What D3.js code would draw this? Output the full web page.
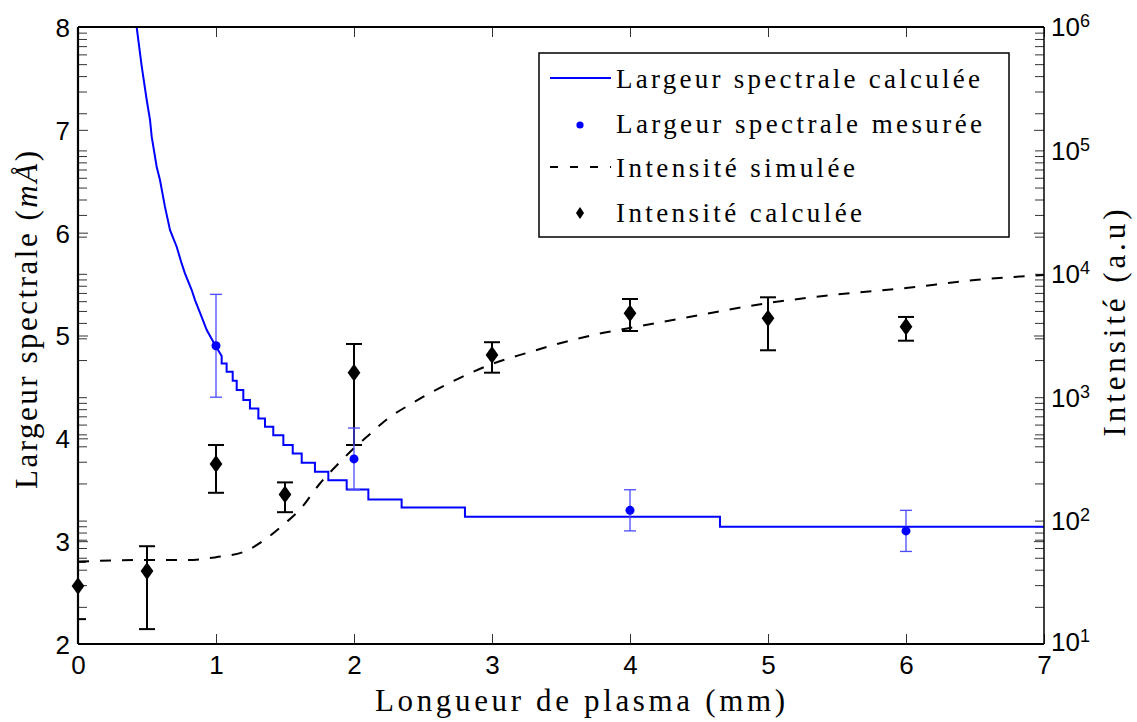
<!DOCTYPE html>
<html>
<head>
<meta charset="utf-8">
<script src="https://cdn.jsdelivr.net/npm/d3@7"></script>
<style>
body { margin: 0; background: #fff; }
svg { display: block; }
</style>
</head>
<body>
<div id="chart"></div>
<script>
// Ticks
var xTicks = [0, 1, 2, 3, 4, 5, 6, 7];
var widthTicks = [2, 3, 4, 5, 6, 7, 8];
var decades = [1, 2, 3, 4, 5, 6];

// Largeur spectrale calculée (smooth head, then staircase)
var calcHeadX = [0.425, 0.462, 0.498, 0.522, 0.534, 0.570, 0.594, 0.630, 0.667, 0.715, 0.751, 0.775, 0.824, 0.848, 0.896, 0.933, 0.993, 1.041];
var calcHeadW = [8.0, 7.614, 7.290, 7.095, 6.933, 6.641, 6.512, 6.253, 6.025, 5.863, 5.701, 5.604, 5.442, 5.344, 5.182, 5.053, 4.907, 4.80];
var calcStepX = [1.041, 1.077, 1.121, 1.150, 1.198, 1.246, 1.307, 1.355, 1.415, 1.488, 1.556, 1.621, 1.717, 1.814, 1.947, 2.104, 2.345, 2.804, 4.652, 7.0];
var calcStepW = [4.728, 4.647, 4.560, 4.469, 4.372, 4.291, 4.194, 4.112, 4.031, 3.934, 3.853, 3.762, 3.674, 3.593, 3.503, 3.405, 3.328, 3.237, 3.139, 3.139];

// Largeur spectrale mesurée
var measX = [1, 2, 4, 6];
var measW = [4.9, 3.8, 3.3, 3.1];
var measErr = [0.5, 0.3, 0.2, 0.2];

// Intensité simulée
var simX = [0, 0.5, 0.8, 1, 1.2, 1.35, 1.5, 1.6, 1.75, 1.9, 2, 2.1, 2.25, 2.4, 2.5, 2.75, 3, 3.25, 3.5, 3.75, 4, 4.5, 5, 5.5, 6, 6.5, 7];
var simI = [46.5, 48, 48, 50.5, 55.7, 69.7, 95, 120, 198, 299, 387, 485, 678, 865, 1005, 1403, 1858, 2280, 2748, 3221, 3640, 4624, 5794, 6792, 7674, 8913, 9772];

// Intensité calculée
var ciX = [0, 0.5, 1, 1.5, 2, 3, 4, 5, 6];
var ciVal = [29.5, 39, 288, 163, 1580, 2200, 4790, 4360, 3730];
var ciLo = [15.9, 13.2, 168, 117, 410, 1580, 3440, 2400, 2870];
var ciHi = [46.4, 62, 410, 204, 2700, 2790, 6250, 6450, 4470];

var legendLabels = ["Largeur spectrale calculée", "Largeur spectrale mesurée", "Intensité simulée", "Intensité calculée"];

var W = 1137, H = 722;
var margin = {top: 27, right: 93, bottom: 78, left: 78},
    width = W - margin.left - margin.right,
    height = H - margin.top - margin.bottom;

var svg = d3.select("#chart").append("svg")
    .attr("width", W)
    .attr("height", H);

var g = svg.append("g")
    .attr("transform", "translate(" + margin.left + "," + margin.top + ")");

var x = d3.scaleLinear().domain([0, 7]).range([0, width]);
var yL = d3.scaleLinear().domain([2, 8]).range([height, 0]);
var yR = d3.scaleLog().domain([10, 1e6]).range([height, 0]);

var sansFont = "'Liberation Sans', Arial, Helvetica, sans-serif";
var serifFont = "'Liberation Serif', 'Times New Roman', serif";

g.append("clipPath").attr("id", "clip")
  .append("rect").attr("width", width).attr("height", height);

// ---- ticks ----
var logTicks = [];
decades.forEach(function(d) {
    if (d == 6) { logTicks.push(1e6); return; }
    for (var k = 1; k <= 9; k++) logTicks.push(k * Math.pow(10, d));
});

function styleTicks(sel) {
    sel.select(".domain").remove();
    sel.selectAll(".tick line").attr("stroke", "#333").attr("stroke-width", 1);
}

g.append("g")
    .attr("transform", "translate(0," + height + ")")
    .call(d3.axisBottom(x).tickValues(xTicks).tickSizeInner(-10).tickSizeOuter(0).tickPadding(12).tickFormat(d3.format("d")))
    .call(styleTicks)
    .selectAll("text")
    .style("font-family", sansFont).style("font-size", "26px").attr("fill", "#000");

g.append("g")
    .call(d3.axisTop(x).tickValues(xTicks).tickSizeInner(-10).tickSizeOuter(0).tickFormat(""))
    .call(styleTicks);

g.append("g")
    .call(d3.axisLeft(yL).tickValues(widthTicks).tickSizeInner(-10).tickSizeOuter(0).tickPadding(8).tickFormat(d3.format("d")))
    .call(styleTicks)
    .selectAll("text")
    .attr("dy", "0.36em")
    .style("font-family", sansFont).style("font-size", "26px").attr("fill", "#000");

g.append("g")
    .attr("transform", "translate(" + width + ",0)")
    .call(d3.axisRight(yL).tickValues(widthTicks).tickSizeInner(-10).tickSizeOuter(0).tickFormat(""))
    .call(styleTicks);

g.append("g")
    .call(d3.axisLeft(yR).tickValues(logTicks).tickSizeInner(-9).tickSizeOuter(0).tickFormat(""))
    .call(styleTicks);

g.append("g")
    .attr("transform", "translate(" + width + ",0)")
    .call(d3.axisRight(yR).tickValues(logTicks).tickSizeInner(-9).tickSizeOuter(0).tickFormat(""))
    .call(styleTicks);

// right log labels 10^n
var rl = g.append("g").attr("transform", "translate(" + (width + 7) + ",0)");
decades.forEach(function(d) {
    var t = rl.append("text")
        .attr("y", yR(Math.pow(10, d)) - (d == 1 ? 2 : 0))
        .attr("dy", "0.36em")
        .style("font-family", sansFont)
        .style("font-size", "26px");
    t.append("tspan").text("10");
    t.append("tspan").attr("dy", "-0.5em").style("font-size", "18px").text(d);
});

// ---- data ----
var plot = g.append("g").attr("clip-path", "url(#clip)");

var headLine = d3.line()
    .x(function(d) { return x(d[0]); })
    .y(function(d) { return yL(d[1]); });
var stepLine = d3.line()
    .x(function(d) { return x(d[0]); })
    .y(function(d) { return yL(d[1]); })
    .curve(d3.curveStepAfter);

var headPts = calcHeadX.map(function(v, i) { return [v, calcHeadW[i]]; });
var stepPts = calcStepX.map(function(v, i) { return [v, calcStepW[i]]; });

plot.append("path")
    .attr("d", headLine(headPts) + stepLine(stepPts).replace("M", "L"))
    .attr("fill", "none")
    .attr("stroke", "#0000ff")
    .attr("stroke-width", 2);

// measured widths with error bars
var meas = measX.map(function(v, i) { return {x: v, w: measW[i], e: measErr[i]}; });
var mg = g.append("g").selectAll("g").data(meas).enter().append("g");
mg.append("line")
    .attr("x1", function(d) { return x(d.x); }).attr("x2", function(d) { return x(d.x); })
    .attr("y1", function(d) { return yL(d.w - d.e); }).attr("y2", function(d) { return yL(d.w + d.e); })
    .attr("stroke", "#4a4aff").attr("stroke-width", 1.3);
[-1, 1].forEach(function(s) {
    mg.append("line")
        .attr("x1", function(d) { return x(d.x) - 6; }).attr("x2", function(d) { return x(d.x) + 6; })
        .attr("y1", function(d) { return yL(d.w + s * d.e); }).attr("y2", function(d) { return yL(d.w + s * d.e); })
        .attr("stroke", "#4a4aff").attr("stroke-width", 1.3);
});
mg.append("circle")
    .attr("cx", function(d) { return x(d.x); })
    .attr("cy", function(d) { return yL(d.w); })
    .attr("r", 4.5)
    .attr("fill", "#0000ff");

// simulated intensity
var simLine = d3.line()
    .x(function(d, i) { return x(simX[i]); })
    .y(function(d) { return yR(d); })
    .curve(d3.curveMonotoneX);
plot.append("path")
    .attr("d", simLine(simI))
    .attr("fill", "none")
    .attr("stroke", "#000")
    .attr("stroke-width", 2)
    .attr("stroke-dasharray", "11,11");

// calculated intensity with error bars
var ci = ciX.map(function(v, i) { return {x: v, v: ciVal[i], lo: ciLo[i], hi: ciHi[i]}; });
var eg = plot.append("g").selectAll("g").data(ci).enter().append("g");
eg.append("line")
    .attr("x1", function(d) { return x(d.x); }).attr("x2", function(d) { return x(d.x); })
    .attr("y1", function(d) { return yR(d.lo); }).attr("y2", function(d) { return yR(d.hi); })
    .attr("stroke", "#000").attr("stroke-width", 2);
["lo", "hi"].forEach(function(k) {
    eg.append("line")
        .attr("x1", function(d) { return x(d.x) - 8; }).attr("x2", function(d) { return x(d.x) + 8; })
        .attr("y1", function(d) { return yR(d[k]); }).attr("y2", function(d) { return yR(d[k]); })
        .attr("stroke", "#000").attr("stroke-width", 2);
});
var diamond = d3.symbol().type(d3.symbolDiamond).size(90);
g.append("g").selectAll("path").data(ci).enter().append("path")
    .attr("d", diamond)
    .attr("transform", function(d) { return "translate(" + x(d.x) + "," + yR(d.v) + ") scale(1.25,1)"; })
    .attr("fill", "#000");

// ---- frame ----
g.append("line").attr("x1", 0).attr("x2", width).attr("y1", 0).attr("y2", 0).attr("stroke", "#000").attr("stroke-width", 2);
g.append("line").attr("x1", 0).attr("x2", width).attr("y1", height).attr("y2", height).attr("stroke", "#000").attr("stroke-width", 2.2);
g.append("line").attr("x1", 0).attr("x2", 0).attr("y1", 0).attr("y2", height).attr("stroke", "#000").attr("stroke-width", 2.2);
g.append("line").attr("x1", width).attr("x2", width).attr("y1", 0).attr("y2", height).attr("stroke", "#000").attr("stroke-width", 1.5);

// ---- titles ----
svg.append("text")
    .attr("x", 580).attr("y", 711)
    .attr("text-anchor", "middle")
    .attr("textLength", 410).attr("lengthAdjust", "spacing")
    .style("font-family", serifFont).style("font-size", "31px")
    .text("Longueur de plasma (mm)");

var lt = svg.append("text")
    .attr("transform", "translate(37,320) rotate(-90)")
    .attr("text-anchor", "middle")
    .attr("textLength", 338).attr("lengthAdjust", "spacing")
    .style("font-family", serifFont).style("font-size", "31px");
lt.append("tspan").text("Largeur spectrale (");
lt.append("tspan").style("font-style", "italic").text("mÅ");
lt.append("tspan").text(")");

svg.append("text")
    .attr("transform", "translate(1125,323) rotate(-90)")
    .attr("text-anchor", "middle")
    .attr("textLength", 227).attr("lengthAdjust", "spacing")
    .style("font-family", serifFont).style("font-size", "31px")
    .text("Intensité (a.u)");

// ---- legend ----
var legend = svg.append("g").attr("class", "legend");
legend.append("rect")
    .attr("x", 539).attr("y", 53).attr("width", 470).attr("height", 184)
    .attr("fill", "#fff").attr("stroke", "#000").attr("stroke-width", 1.5);

var rowBase = [88, 133, 177, 222];
var textLen = [364, 366, 239, 246];
legend.selectAll("text.lbl").data(legendLabels).enter().append("text")
    .attr("class", "lbl")
    .attr("x", 616)
    .attr("y", function(d, i) { return rowBase[i]; })
    .attr("textLength", function(d, i) { return textLen[i]; })
    .attr("lengthAdjust", "spacing")
    .style("font-family", serifFont).style("font-size", "27px")
    .text(function(d) { return d; });

legend.append("line").attr("x1", 550).attr("x2", 611).attr("y1", rowBase[0] - 10).attr("y2", rowBase[0] - 10)
    .attr("stroke", "#0000ff").attr("stroke-width", 2);
legend.append("circle").attr("cx", 580).attr("cy", rowBase[1] - 8).attr("r", 3.6).attr("fill", "#0000ff");
legend.append("line").attr("x1", 550).attr("x2", 611).attr("y1", rowBase[2] - 10).attr("y2", rowBase[2] - 10)
    .attr("stroke", "#000").attr("stroke-width", 2).attr("stroke-dasharray", "8,12");
legend.append("path").attr("d", d3.symbol().type(d3.symbolDiamond).size(40))
    .attr("transform", "translate(580," + (rowBase[3] - 9) + ") scale(1.2,1)")
    .attr("fill", "#000");
</script>
</body>
</html>
